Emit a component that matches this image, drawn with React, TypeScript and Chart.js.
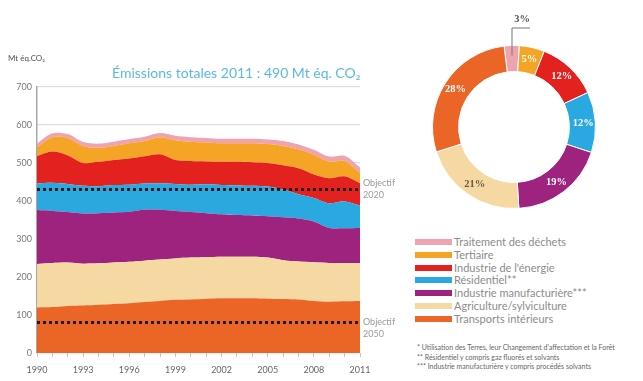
import React, { useEffect, useRef } from 'react';
import { Chart, registerables } from 'chart.js';
Chart.register(...registerables);

const years = ['1990','1991','1992','1993','1994','1995','1996','1997','1998','1999','2000','2001','2002','2003','2004','2005','2006','2007','2008','2009','2010','2011'];
const shownYears = ['1990','1993','1996','1999','2002','2005','2008','2011'];

const transports = [120,121,124,125,127,129,131,134,137,140,141,143,144,144,144,143,142,141,137,135,136,137];
const agriculture = [114,116,114,110,109,109,109,109,109,109,110,109,109,109,109,108,102,100,102,102,101,100];
const industrieManuf = [142,137,133,132,132,132,132,134,131,125,120,116,112,110,109,109,113,113,107,92,91,92];
const residentiel = [70,74,74,73,71,72,71,69,70,71,72,76,77,78,78,78,73,64,62,65,71,59];
const energie = [72,82,75,60,64,66,69,72,76,63,62,60,61,62,62,62,64,68,62,66,66,59];
const tertiaire = [23,38,46,45,37,37,40,40,45,52,51,50,49,49,50,50,51,50,52,44,40,27];
const dechets = [10,10,10,10,11,11,11,11,11,12,12,12,12,12,12,12,13,13,13,13,14,14];

const objectif2020 = 432;
const objectif2050 = 82;

const legendLabels = ['Traitement des déchets','Tertiaire',"Industrie de l'énergie",'Résidentiel**','Industrie manufacturière***','Agriculture/sylviculture','Transports intérieurs'];
const legendColors = ['#EFA3B1','#F4A525','#E3211F','#2AA8E0','#9E237E','#F5D8A2','#EA6526'];

const donutLabels = ['Traitement des déchets','Tertiaire',"Industrie de l'énergie",'Résidentiel','Industrie manufacturière','Agriculture/sylviculture','Transports intérieurs'];
const donutValues = [3,5,12,12,19,21,28];
const donutColors = ['#EFA3B1','#F4A525','#E3211F','#2AA8E0','#9E237E','#F5D8A2','#EA6526'];

const footnotes = [
  "* Utilisation des Terres, leur Changement d'affectation et la Forêt",
  '** Résidentiel y compris gaz fluorés et solvants',
  '*** Industrie manufacturière y compris procédés solvants',
];

const objectivePlugin = {
  id: 'objectives',
  afterDraw(chart: any) {
    const { ctx, chartArea, scales } = chart;
    ctx.save();
    ctx.strokeStyle = '#1b1b1b';
    ctx.lineWidth = 3;
    ctx.setLineDash([3, 3]);
    [objectif2020, objectif2050].forEach((v) => {
      const y = Math.round(scales.y.getPixelForValue(v)) + 0.5;
      ctx.beginPath();
      ctx.moveTo(chartArea.left, y);
      ctx.lineTo(chartArea.right, y);
      ctx.stroke();
    });
    ctx.restore();
  },
};

const donutLabelPlugin = {
  id: 'donutLabels',
  afterDatasetsDraw(chart: any) {
    const { ctx } = chart;
    const meta = chart.getDatasetMeta(0);
    ctx.save();
    ctx.font = 'bold 10.5px "Liberation Serif"';
    ctx.textAlign = 'center';
    ctx.textBaseline = 'middle';
    meta.data.forEach((arc: any, i: number) => {
      const p = arc.getProps(['x', 'y', 'startAngle', 'endAngle', 'innerRadius', 'outerRadius'], true);
      const mid = (p.startAngle + p.endAngle) / 2;
      const text = donutValues[i] + '%';
      if (i === 0) {
        const xa = p.x + Math.cos(mid) * (p.outerRadius - 10);
        const ya = p.y + Math.sin(mid) * (p.outerRadius - 10);
        const topY = 28;
        ctx.strokeStyle = '#777';
        ctx.lineWidth = 1;
        ctx.beginPath();
        ctx.moveTo(xa, ya);
        ctx.lineTo(xa, topY);
        ctx.lineTo(xa + 18, topY);
        ctx.stroke();
        ctx.fillStyle = '#555';
        ctx.fillText(text, xa + 10, 19);
        return;
      }
      const r = (p.innerRadius + p.outerRadius) / 2 + 1;
      const x = p.x + Math.cos(mid) * r;
      const y = p.y + Math.sin(mid) * r;
      ctx.fillStyle = i === 5 ? '#6e5a3c' : '#ffffff';
      ctx.fillText(text, x, y);
    });
    ctx.restore();
  },
};

export default function App() {
  const areaRef = useRef<HTMLCanvasElement>(null);
  const donutRef = useRef<HTMLCanvasElement>(null);

  useEffect(() => {
    const series = [
      { label: 'Transports intérieurs', data: transports, color: legendColors[6] },
      { label: 'Agriculture/sylviculture', data: agriculture, color: legendColors[5] },
      { label: 'Industrie manufacturière', data: industrieManuf, color: legendColors[4] },
      { label: 'Résidentiel', data: residentiel, color: legendColors[3] },
      { label: "Industrie de l'énergie", data: energie, color: legendColors[2] },
      { label: 'Tertiaire', data: tertiaire, color: legendColors[1] },
      { label: 'Traitement des déchets', data: dechets, color: legendColors[0] },
    ];
    const area = new Chart(areaRef.current!, {
      type: 'line',
      data: {
        labels: years,
        datasets: series.map((s, i) => ({
          label: s.label,
          data: s.data,
          backgroundColor: s.color,
          borderColor: s.color,
          borderWidth: 0,
          pointRadius: 0,
          tension: 0.3,
          fill: i === 0 ? 'origin' : '-1',
        })),
      },
      options: {
        responsive: false,
        animation: false,
        layout: { padding: { top: 87, right: 40, left: 0, bottom: 0 } },
        plugins: { legend: { display: false }, tooltip: { enabled: false } },
        scales: {
          x: {
            offset: false,
            border: { display: false },
            grid: { drawOnChartArea: false, drawTicks: true, tickLength: 4, color: '#c4c4c4' },
            ticks: {
              autoSkip: false,
              maxRotation: 0,
              padding: 8,
              color: '#666',
              font: { family: 'Lato', size: 9 },
              callback: (_v: any, idx: number) => (shownYears.includes(years[idx]) ? years[idx] : ''),
            },
            afterFit: (s: any) => { s.height = 28; },
          },
          y: {
            stacked: true,
            min: 0,
            max: 700,
            z: 1,
            border: { display: true, color: '#a8a8a8', width: 1.5 },
            grid: { drawTicks: false, color: 'rgba(190,190,190,0.5)', lineWidth: 1.2 },
            ticks: { stepSize: 100, padding: 5, color: '#777', font: { family: 'Lato', size: 9 } },
            afterFit: (s: any) => { s.width = 37; },
          },
        },
      },
      plugins: [objectivePlugin],
    });

    const donut = new Chart(donutRef.current!, {
      type: 'doughnut',
      data: {
        labels: donutLabels,
        datasets: [{ data: donutValues, backgroundColor: donutColors, borderColor: '#ffffff', borderWidth: 1 }],
      },
      options: {
        responsive: false,
        animation: false,
        cutout: '68%',
        rotation: -7,
        layout: { padding: { left: 18, right: 18, top: 45, bottom: 11 } },
        plugins: { legend: { display: false }, tooltip: { enabled: false } },
      },
      plugins: [donutLabelPlugin],
    });

    return () => {
      area.destroy();
      donut.destroy();
    };
  }, []);

  const txt = (style: React.CSSProperties, content: React.ReactNode, key?: any) => (
    <div key={key} style={{ position: 'absolute', whiteSpace: 'nowrap', ...style }}>{content}</div>
  );

  return (
    <div style={{ position: 'fixed', left: 0, top: 0, width: 643, height: 381, background: '#fff', overflow: 'hidden', fontFamily: 'Lato, sans-serif' }}>
      <canvas ref={areaRef} width={400} height={381} style={{ position: 'absolute', left: 0, top: 0 }} />
      <canvas ref={donutRef} width={200} height={220} style={{ position: 'absolute', left: 414, top: 0 }} />
      {txt({ left: 8, top: 53, fontSize: 8, lineHeight: '10px', color: '#555' }, 'Mt éq.CO₂')}
      {txt({ left: 112, top: 65, fontSize: 14, lineHeight: '16px', color: '#5BBADD' }, 'Émissions totales 2011 : 490 Mt éq. CO₂')}
      {txt({ left: 363, top: 177, fontSize: 9, lineHeight: '12px', color: '#999' }, <>Objectif<br />2020</>)}
      {txt({ left: 363, top: 316, fontSize: 9, lineHeight: '12px', color: '#999' }, <>Objectif<br />2050</>)}
      {legendLabels.map((l, i) => (
        <div key={l} style={{ position: 'absolute', left: 415, top: 236 + i * 12.8, height: 12, display: 'flex', alignItems: 'center' }}>
          <div style={{ width: 37, height: 6, background: legendColors[i] }} />
          <div style={{ marginLeft: 2, fontSize: 11, lineHeight: '12px', color: '#8c8c8c', whiteSpace: 'nowrap' }}>{l}</div>
        </div>
      ))}
      {footnotes.map((f, i) => txt({ left: 417, top: 343 + i * 9.5, fontSize: 7, lineHeight: '8px', color: '#666' }, f, 'f' + i))}
    </div>
  );
}
